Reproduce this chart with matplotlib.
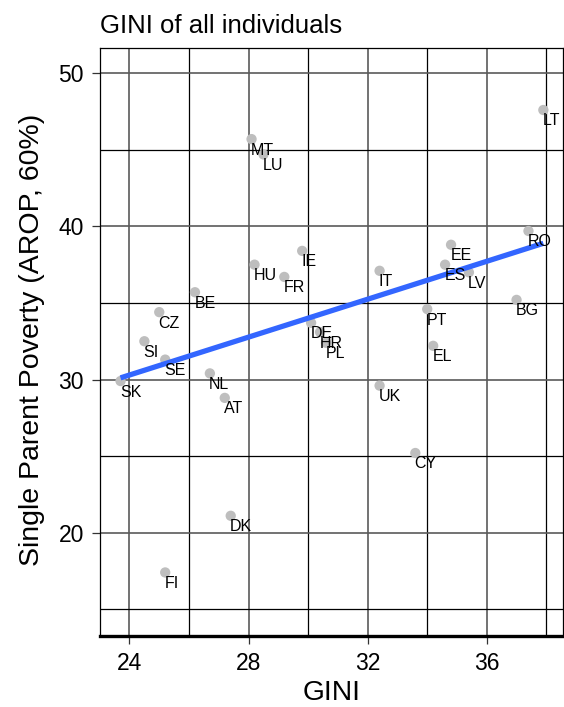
import numpy as np
import matplotlib
matplotlib.use("Agg")
from matplotlib import pyplot as plt
from matplotlib.ticker import MultipleLocator

# GINI coefficient and single-parent at-risk-of-poverty rate by country
countries = ["MT", "LU", "IE", "HU", "FR", "BE", "CZ", "SI", "SE", "SK",
             "NL", "AT", "LT", "RO", "EE", "ES", "LV", "IT", "BG", "PT",
             "DE", "HR", "PL", "EL", "UK", "CY", "DK", "FI"]
gini = [28.1, 28.5, 29.8, 28.2, 29.2, 26.2, 25.0, 24.5, 25.2, 23.7,
        26.7, 27.2, 37.9, 37.4, 34.8, 34.6, 35.4, 32.4, 37.0, 34.0,
        30.1, 30.4, 30.6, 34.2, 32.4, 33.6, 27.4, 25.2]
arop = [45.7, 44.7, 38.4, 37.5, 36.7, 35.7, 34.4, 32.5, 31.3, 29.9,
        30.4, 28.8, 47.6, 39.7, 38.8, 37.5, 37.0, 37.1, 35.2, 34.6,
        33.7, 33.1, 32.4, 32.2, 29.6, 25.2, 21.1, 17.4]

plt.rcParams["font.family"] = ["Liberation Sans", "DejaVu Sans"]

fig = plt.figure(figsize=(5.64, 7.07), dpi=100)
ax = fig.add_axes([100 / 564, 71 / 707, 463 / 564, 588 / 707])

x = np.array(gini)
y = np.array(arop)

# grid: grey major lines, thin black minor lines
ax.xaxis.set_major_locator(MultipleLocator(4))
ax.xaxis.set_minor_locator(MultipleLocator(2))
ax.yaxis.set_major_locator(MultipleLocator(10))
ax.yaxis.set_minor_locator(MultipleLocator(5))
ax.grid(which="major", color="#5a5a5a", linewidth=1.2)
ax.grid(which="minor", color="black", linewidth=0.9)
ax.set_axisbelow(True)

ax.scatter(x, y, s=55, color="#bebebe", edgecolors="none", zorder=3)

# least squares fit across the observed GINI range
slope, intercept = np.polyfit(x, y, 1)
xs = np.array([x.min(), x.max()])
ax.plot(xs, intercept + slope * xs, color="#3366ff", linewidth=3.8,
        solid_capstyle="butt", zorder=4)

for c, xi, yi in zip(countries, x, y):
    ax.annotate(c, (xi, yi), xytext=(-0.5, -2.5), textcoords="offset points",
                ha="left", va="top", fontsize=11.5, color="black", zorder=5)

ax.set_xlim(23.01, 38.56)
ax.set_ylim(13.25, 51.65)
ax.set_xticks([24, 28, 32, 36])
ax.set_yticks([20, 30, 40, 50])
ax.set_xticklabels(["24", "28", "32", "36"])
ax.tick_params(which="major", direction="out", length=5.5, width=0.9,
               color="#333333", labelsize=16.5, labelcolor="black")
ax.tick_params(axis="x", which="major", pad=6)
ax.tick_params(axis="y", which="major", pad=6)
ax.tick_params(which="minor", length=0)

for side in ["top", "left", "right"]:
    ax.spines[side].set_linewidth(0.9)
    ax.spines[side].set_color("black")
ax.spines["bottom"].set_linewidth(2.4)
ax.spines["bottom"].set_color("black")

fig.text(100 / 564, 1 - 33 / 707, "GINI of all individuals", fontsize=18.5,
         ha="left", va="baseline")
fig.text(332 / 564, 1 - 700 / 707, "GINI", fontsize=20.3,
         ha="center", va="baseline")
fig.text(32 / 564, 1 - 340 / 707, "Single Parent Poverty (AROP, 60%)",
         fontsize=20.5, rotation=90, ha="center", va="center")

fig.savefig("out.png", dpi=100, facecolor="white")
